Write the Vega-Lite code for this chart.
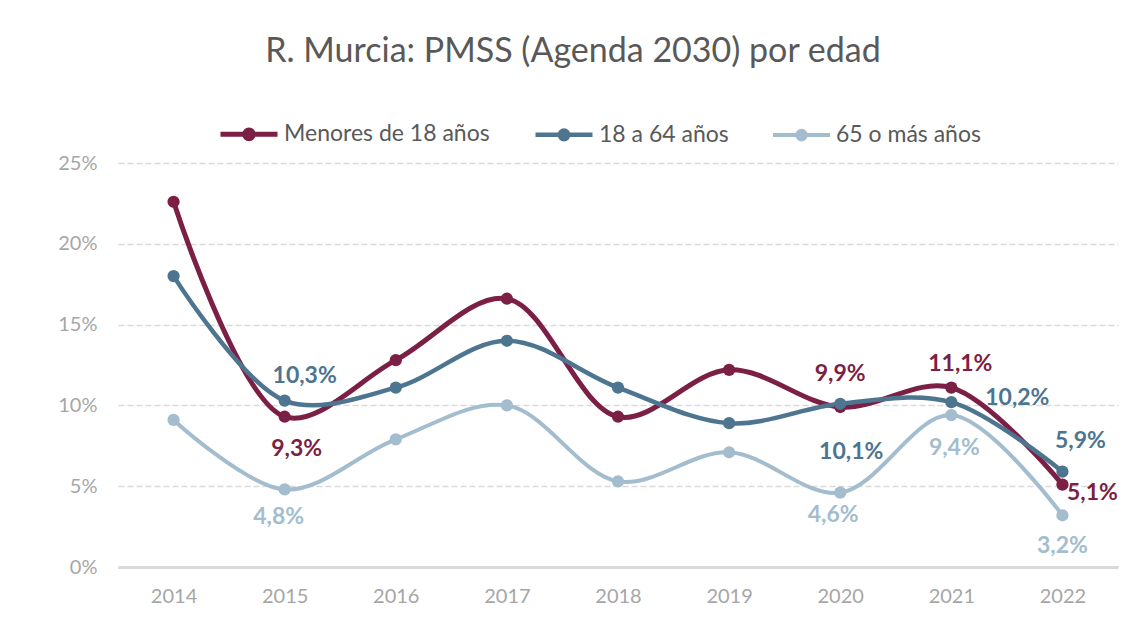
{
  "$schema": "https://vega.github.io/schema/vega-lite/v6.json",
  "width": 1000,
  "height": 404,
  "autosize": {"type": "none"},
  "padding": {"left": 118, "top": 163, "right": 23, "bottom": 57},
  "background": "white",
  "title": {
    "text": "R. Murcia: PMSS (Agenda 2030) por edad",
    "font": "Lato",
    "fontSize": 34,
    "fontWeight": "normal",
    "color": "#595959",
    "anchor": "middle",
    "dx": -45,
    "dy": 22,
    "offset": 56
  },
  "data": {
    "values": [
      {"year": "2014", "serie": "Menores de 18 años", "value": 0.226},
      {"year": "2015", "serie": "Menores de 18 años", "value": 0.093},
      {"year": "2016", "serie": "Menores de 18 años", "value": 0.128},
      {"year": "2017", "serie": "Menores de 18 años", "value": 0.166},
      {"year": "2018", "serie": "Menores de 18 años", "value": 0.093},
      {"year": "2019", "serie": "Menores de 18 años", "value": 0.122},
      {"year": "2020", "serie": "Menores de 18 años", "value": 0.099},
      {"year": "2021", "serie": "Menores de 18 años", "value": 0.111},
      {"year": "2022", "serie": "Menores de 18 años", "value": 0.051},
      {"year": "2014", "serie": "18 a 64 años", "value": 0.180},
      {"year": "2015", "serie": "18 a 64 años", "value": 0.103},
      {"year": "2016", "serie": "18 a 64 años", "value": 0.111},
      {"year": "2017", "serie": "18 a 64 años", "value": 0.140},
      {"year": "2018", "serie": "18 a 64 años", "value": 0.111},
      {"year": "2019", "serie": "18 a 64 años", "value": 0.089},
      {"year": "2020", "serie": "18 a 64 años", "value": 0.101},
      {"year": "2021", "serie": "18 a 64 años", "value": 0.102},
      {"year": "2022", "serie": "18 a 64 años", "value": 0.059},
      {"year": "2014", "serie": "65 o más años", "value": 0.091},
      {"year": "2015", "serie": "65 o más años", "value": 0.048},
      {"year": "2016", "serie": "65 o más años", "value": 0.079},
      {"year": "2017", "serie": "65 o más años", "value": 0.100},
      {"year": "2018", "serie": "65 o más años", "value": 0.053},
      {"year": "2019", "serie": "65 o más años", "value": 0.071},
      {"year": "2020", "serie": "65 o más años", "value": 0.046},
      {"year": "2021", "serie": "65 o más años", "value": 0.094},
      {"year": "2022", "serie": "65 o más años", "value": 0.032}
    ]
  },
  "encoding": {
    "x": {
      "field": "year",
      "type": "ordinal",
      "scale": {"type": "point", "padding": 0.5},
      "axis": {
        "title": null,
        "labelAngle": 0,
        "labelFont": "Lato",
        "labelFontSize": 20,
        "labelColor": "#a6a6a6",
        "labelPadding": 19,
        "ticks": false,
        "domain": true,
        "domainColor": "#d9d9d9",
        "domainWidth": 3,
        "grid": false
      }
    },
    "y": {
      "field": "value",
      "type": "quantitative",
      "scale": {"domain": [0, 0.25]},
      "axis": {
        "title": null,
        "format": ".0%",
        "values": [0, 0.05, 0.1, 0.15, 0.2, 0.25],
        "labelFont": "Lato",
        "labelFontSize": 20,
        "labelColor": "#a6a6a6",
        "labelPadding": 21,
        "ticks": false,
        "domain": false,
        "grid": true,
        "gridColor": "#d9d9d9",
        "gridWidth": 1.5,
        "gridDash": [6, 3]
      }
    },
    "color": {
      "field": "serie",
      "type": "nominal",
      "sort": ["Menores de 18 años", "18 a 64 años", "65 o más años"],
      "scale": {
        "domain": ["Menores de 18 años", "18 a 64 años", "65 o más años"],
        "range": ["#7b1f45", "#4d7590", "#a3bdce"]
      },
      "legend": {
        "title": null,
        "orient": "none",
        "direction": "horizontal",
        "legendX": 100,
        "legendY": -60,
        "padding": 0,
        "labelFont": "Lato",
        "labelFontSize": 23,
        "labelColor": "#595959",
        "labelLimit": 400,
        "labelOffset": 4,
        "columnPadding": 36,
        "symbolType": "M-1,0H1M0.15,0A0.15,0.15,0,1,1,-0.15,0A0.15,0.15,0,1,1,0.15,0Z",
        "symbolSize": 3249,
        "symbolStrokeWidth": 4,
        "symbolOpacity": 1,
        "encode": {
          "symbols": {
            "update": {
              "fill": {"scale": "color", "field": "value"},
              "stroke": {"scale": "color", "field": "value"},
              "strokeWidth": {"value": 4},
              "opacity": {"value": 1}
            }
          }
        }
      }
    }
  },
  "layer": [
    {
      "mark": {"type": "line", "interpolate": "catmull-rom"},
      "encoding": {
        "strokeWidth": {
          "field": "serie",
          "type": "nominal",
          "scale": {
            "domain": ["Menores de 18 años", "18 a 64 años", "65 o más años"],
            "range": [5, 4, 3.5]
          },
          "legend": null
        }
      }
    },
    {
      "mark": {"type": "point", "filled": true, "opacity": 1, "size": 150}
    },
    {
      "transform": [{"filter": "datum.serie == '18 a 64 años' && datum.year == '2015'"}],
      "mark": {"type": "text", "font": "Lato", "fontWeight": "bold", "fontSize": 23, "dx": 20, "dy": -25},
      "encoding": {"text": {"field": "value", "type": "quantitative", "format": ".1%"}}
    },
    {
      "transform": [{"filter": "datum.serie == 'Menores de 18 años' && datum.year == '2015'"}],
      "mark": {"type": "text", "font": "Lato", "fontWeight": "bold", "fontSize": 23, "dx": 12, "dy": 32},
      "encoding": {"text": {"field": "value", "type": "quantitative", "format": ".1%"}}
    },
    {
      "transform": [{"filter": "datum.serie == '65 o más años' && datum.year == '2015'"}],
      "mark": {"type": "text", "font": "Lato", "fontWeight": "bold", "fontSize": 23, "dx": -6, "dy": 28},
      "encoding": {"text": {"field": "value", "type": "quantitative", "format": ".1%"}}
    },
    {
      "transform": [{"filter": "datum.serie == 'Menores de 18 años' && datum.year == '2020'"}],
      "mark": {"type": "text", "font": "Lato", "fontWeight": "bold", "fontSize": 23, "dx": 0, "dy": -33},
      "encoding": {"text": {"field": "value", "type": "quantitative", "format": ".1%"}}
    },
    {
      "transform": [{"filter": "datum.serie == '18 a 64 años' && datum.year == '2020'"}],
      "mark": {"type": "text", "font": "Lato", "fontWeight": "bold", "fontSize": 23, "dx": 11, "dy": 48},
      "encoding": {"text": {"field": "value", "type": "quantitative", "format": ".1%"}}
    },
    {
      "transform": [{"filter": "datum.serie == '65 o más años' && datum.year == '2020'"}],
      "mark": {"type": "text", "font": "Lato", "fontWeight": "bold", "fontSize": 23, "dx": -7, "dy": 22},
      "encoding": {"text": {"field": "value", "type": "quantitative", "format": ".1%"}}
    },
    {
      "transform": [{"filter": "datum.serie == 'Menores de 18 años' && datum.year == '2021'"}],
      "mark": {"type": "text", "font": "Lato", "fontWeight": "bold", "fontSize": 23, "dx": 9, "dy": -24},
      "encoding": {"text": {"field": "value", "type": "quantitative", "format": ".1%"}}
    },
    {
      "transform": [{"filter": "datum.serie == '18 a 64 años' && datum.year == '2021'"}],
      "mark": {"type": "text", "font": "Lato", "fontWeight": "bold", "fontSize": 23, "dx": 66, "dy": -4},
      "encoding": {"text": {"field": "value", "type": "quantitative", "format": ".1%"}}
    },
    {
      "transform": [{"filter": "datum.serie == '65 o más años' && datum.year == '2021'"}],
      "mark": {"type": "text", "font": "Lato", "fontWeight": "bold", "fontSize": 23, "dx": 3, "dy": 33},
      "encoding": {"text": {"field": "value", "type": "quantitative", "format": ".1%"}}
    },
    {
      "transform": [{"filter": "datum.serie == '18 a 64 años' && datum.year == '2022'"}],
      "mark": {"type": "text", "font": "Lato", "fontWeight": "bold", "fontSize": 23, "dx": 18, "dy": -31},
      "encoding": {"text": {"field": "value", "type": "quantitative", "format": ".1%"}}
    },
    {
      "transform": [{"filter": "datum.serie == 'Menores de 18 años' && datum.year == '2022'"}],
      "mark": {"type": "text", "font": "Lato", "fontWeight": "bold", "fontSize": 23, "dx": 30, "dy": 8},
      "encoding": {"text": {"field": "value", "type": "quantitative", "format": ".1%"}}
    },
    {
      "transform": [{"filter": "datum.serie == '65 o más años' && datum.year == '2022'"}],
      "mark": {"type": "text", "font": "Lato", "fontWeight": "bold", "fontSize": 23, "dx": 0, "dy": 31},
      "encoding": {"text": {"field": "value", "type": "quantitative", "format": ".1%"}}
    }
  ],
  "config": {
    "locale": {"number": {"decimal": ",", "thousands": ".", "grouping": [3], "currency": ["", " €"]}},
    "view": {"stroke": null}
  }
}
